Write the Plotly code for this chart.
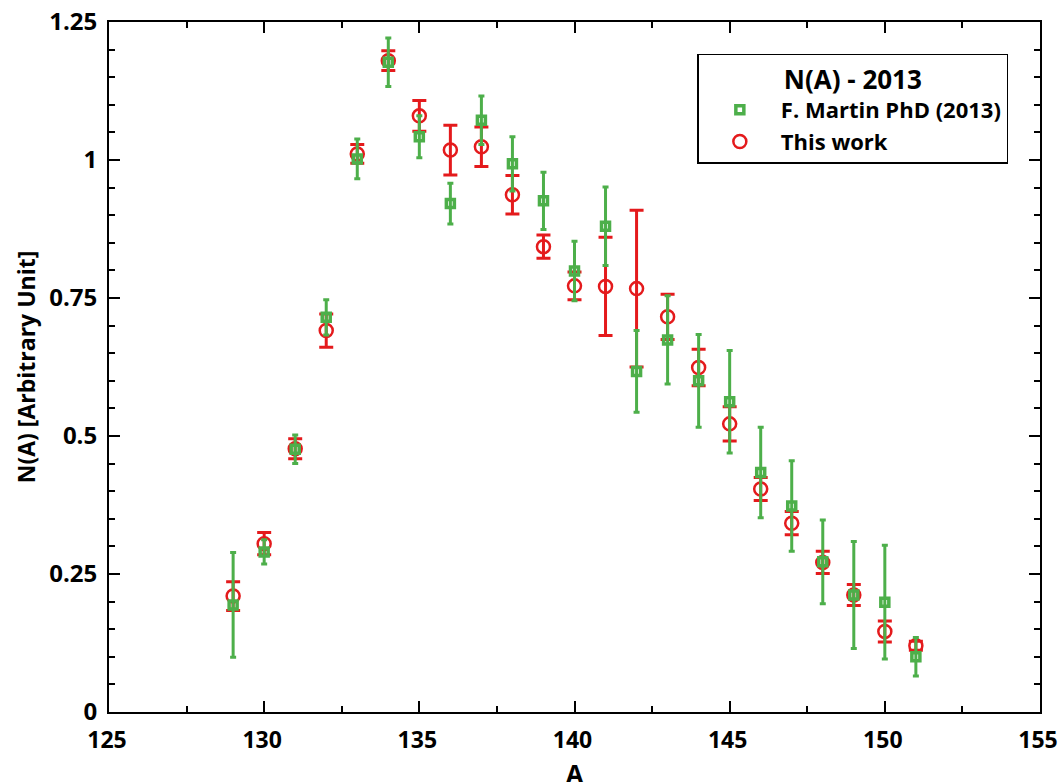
import plotly.graph_objects as go

A = list(range(129, 152))

work_val = [0.210, 0.305, 0.477, 0.691, 1.011, 1.180, 1.080, 1.018, 1.024, 0.937, 0.843, 0.772,
            0.771, 0.767, 0.716, 0.624, 0.522, 0.404, 0.342, 0.271, 0.212, 0.146, 0.120]
work_err = [0.026, 0.020, 0.018, 0.030, 0.017, 0.018, 0.028, 0.045, 0.036, 0.035, 0.021, 0.025,
            0.089, 0.142, 0.041, 0.033, 0.031, 0.021, 0.021, 0.020, 0.019, 0.019, 0.008]

martin_val = [0.194, 0.290, 0.476, 0.715, 1.002, 1.177, 1.042, 0.921, 1.072, 0.993, 0.926, 0.799,
              0.880, 0.617, 0.674, 0.600, 0.562, 0.434, 0.373, 0.272, 0.212, 0.199, 0.100]
martin_err = [0.095, 0.022, 0.026, 0.032, 0.036, 0.044, 0.038, 0.037, 0.044, 0.049, 0.052, 0.054,
              0.071, 0.074, 0.080, 0.084, 0.093, 0.082, 0.082, 0.076, 0.097, 0.103, 0.035]

x_ticks = [125, 130, 135, 140, 145, 150, 155]
y_ticks = [0, 0.25, 0.5, 0.75, 1, 1.25]
y_ticklabels = ["0", "0.25", "0.5", "0.75", "1", "1.25"]

RED = "#E41A1C"
GREEN = "#4DAF4A"
FONT = "Open Sans"

fig = go.Figure()

fig.add_trace(go.Scatter(
    x=A, y=work_val, mode="markers", name="<b>This work</b>", legendrank=2,
    marker=dict(symbol="circle-open", size=13, color=RED, line=dict(width=2.5, color=RED)),
    error_y=dict(type="data", array=work_err, visible=True, color=RED, thickness=3, width=7),
))
fig.add_trace(go.Scatter(
    x=A, y=martin_val, mode="markers", name="<b>F. Martin PhD (2013)</b>", legendrank=1,
    marker=dict(symbol="square-open", size=8, color=GREEN, line=dict(width=3.5, color=GREEN)),
    error_y=dict(type="data", array=martin_err, visible=True, color=GREEN, thickness=3, width=3),
))

axis_common = dict(
    showgrid=False, zeroline=False, showline=True, linecolor="black", linewidth=2,
    mirror="ticks", ticks="inside", ticklen=11, tickwidth=1.5, tickcolor="black",
    automargin=False, ticklabeloverflow="allow",
)

fig.update_xaxes(
    range=[125, 155], tickvals=x_ticks, ticklabelstandoff=6, ticklabelshift=-2,
    tickfont=dict(family=FONT, size=23, color="black", weight="bold"),
    minor=dict(dtick=2.5, ticks="inside", ticklen=6, tickwidth=1.5, tickcolor="black"),
    **axis_common,
)
fig.update_yaxes(
    range=[0, 1.25], tickvals=y_ticks, ticktext=y_ticklabels, ticklabelstandoff=5,
    tickfont=dict(family=FONT, size=24, color="black", weight="bold"),
    minor=dict(dtick=0.05, ticks="inside", ticklen=6, tickwidth=1.5, tickcolor="black"),
    title=dict(text="<b>N(A) [Arbitrary Unit]</b>", font=dict(family=FONT, size=23, color="black"), standoff=7),
    **axis_common,
)

# x-axis title placed as an annotation so it can sit low, as in the reference
fig.add_annotation(
    text="<b>A</b>", xref="paper", yref="paper", x=0.5, y=0,
    xanchor="center", yanchor="middle", yshift=-61, showarrow=False,
    font=dict(family=FONT, size=25, color="black"),
)

fig.update_layout(
    width=1059, height=782,
    margin=dict(l=109, r=19, t=22, b=70),
    paper_bgcolor="white", plot_bgcolor="white",
    showlegend=True,
    legend=dict(
        x=0.966, y=0.954, xanchor="right", yanchor="top",
        bgcolor="white", bordercolor="black", borderwidth=1.5,
        font=dict(family=FONT, size=22, color="black"),
        title=dict(text="<b>N(A) - 2013</b>", side="top center",
                   font=dict(family=FONT, size=26, color="black")),
        itemwidth=72, tracegroupgap=2,
    ),
)

fig.write_html("out.html", config={"displayModeBar": False},
               post_script="document.body.style.margin='0px';document.body.style.overflow='hidden';")
